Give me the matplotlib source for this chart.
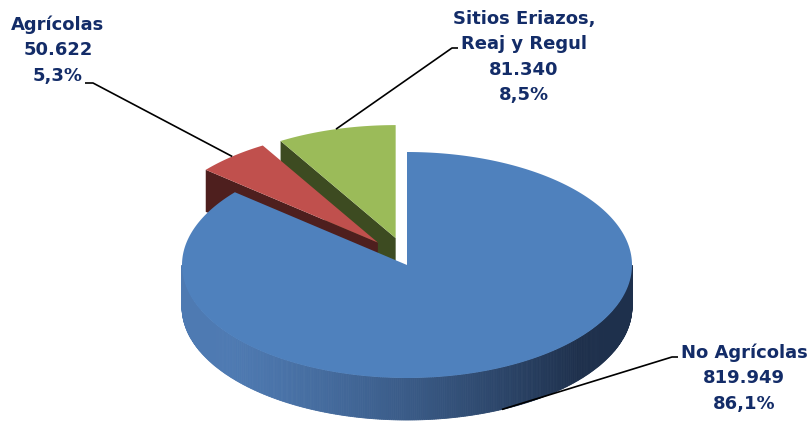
import numpy as np
import matplotlib.pyplot as plt
from matplotlib.patches import Polygon

# Superficie por tipo de uso (unidades del informe)
labels = ['No Agrícolas', 'Agrícolas', 'Sitios Eriazos,\nReaj y Regul']
values = [819949, 50622, 81340]
explode = [0.0, 0.20, 0.19]

top_colors = ['#4f81bd', '#c0504d', '#9bbb59']
wall_colors = ['#22385a', '#4e1f1e', '#3d4b21']
text_color = '#132c68'

# geometry of the projected pie, in pixel units
CX, CY = 407, 265
RX, RY = 225, 113
DEPTH = 42
LIFT = 1.3  # exploded slices move a bit more vertically (perspective)

# label block centres and the elbow where each leader line starts
label_pos = [(744, 378), (58, 50), (524, 57)]
elbows = [((678, 357), (672, 357)), ((85, 83), (93, 83)), ((458, 48), (452, 48))]


def fmt_int(v):
    return f'{v:,}'.replace(',', '.')


def fmt_pct(p):
    return f'{p:.1f}'.replace('.', ',') + '%'


def pt(theta, r=1.0, off=(0.0, 0.0), dz=0.0):
    t = np.radians(theta)
    return (CX + RX * r * np.cos(t) + off[0],
            CY - RY * r * np.sin(t) + off[1] + dz)


def side_shade(theta):
    # lighting on the curved rim: bright on the left, dark to the right
    c = np.cos(np.radians(theta - 200))
    k = np.clip((c + 0.5) / 1.45, 0, 1)
    light = np.array([78, 122, 178]) / 255
    dark = np.array([30, 48, 76]) / 255
    return dark + (light - dark) * k


fig = plt.figure(figsize=(8.09, 4.24), dpi=100)
ax = fig.add_axes([0, 0, 1, 1])
ax.set_xlim(0, 809)
ax.set_ylim(424, 0)
ax.axis('off')

total = sum(values)
fracs = [v / total for v in values]

# slices run clockwise from 12 o'clock
spans = []
start = 90.0
for f in fracs:
    end = start - 360 * f
    spans.append((end, start))
    start = end

offsets = []
for (a0, a1), e in zip(spans, explode):
    mid = np.radians((a0 + a1) / 2)
    offsets.append((RX * e * np.cos(mid), -RY * LIFT * e * np.sin(mid)))

# draw back slices first, the large front slice last
for i in [2, 1, 0]:
    a0, a1 = spans[i]
    off = offsets[i]
    apex = pt(0, 0, off)

    # radial walls facing the viewer
    for edge, facing in [(a1, a1 + 90), (a0, a0 - 90)]:
        if np.sin(np.radians(facing)) < -0.05:
            outer = pt(edge, 1, off)
            quad = [apex, outer, pt(edge, 1, off, DEPTH), pt(0, 0, off, DEPTH)]
            ax.add_patch(Polygon(quad, closed=True, fc=wall_colors[i], ec='none'))

    # curved rim on the front half
    th = np.linspace(a0, a1, 400)
    th_front = th[np.sin(np.radians(th)) <= 0]
    if i == 0:
        th_front = np.linspace(180, 360, 361)
    for t0, t1 in zip(th_front[:-1], th_front[1:]):
        quad = [pt(t0, 1, off), pt(t1, 1, off),
                pt(t1, 1, off, DEPTH), pt(t0, 1, off, DEPTH)]
        col = side_shade((t0 + t1) / 2) if i == 0 else wall_colors[i]
        ax.add_patch(Polygon(quad, closed=True, fc=col, ec=col, lw=0.6))

    # top face
    arc = [pt(t, 1, off) for t in th]
    ax.add_patch(Polygon([apex] + arc, closed=True, fc=top_colors[i], ec='none'))

# data labels with leader lines
for i in range(3):
    a0, a1 = spans[i]
    mid = (a0 + a1) / 2
    if i == 0:
        target = pt(mid, 1, offsets[i], DEPTH)
    else:
        target = pt(mid, 1, offsets[i])
    (ex0, ey0), (ex1, ey1) = elbows[i]
    ax.plot([ex0, ex1, target[0]], [ey0, ey1, target[1]], color='black', lw=1.2,
            solid_capstyle='butt')

    lines = labels[i].split('\n') + [fmt_int(values[i]), fmt_pct(fracs[i] * 100)]
    cx, cy = label_pos[i]
    step = 25.5
    y0 = cy - step * (len(lines) - 1) / 2
    for k, s in enumerate(lines):
        ax.text(cx, y0 + k * step, s, ha='center', va='center', fontsize=13,
                fontweight='bold', color=text_color, family='DejaVu Sans')

fig.savefig('out.png', dpi=100)
